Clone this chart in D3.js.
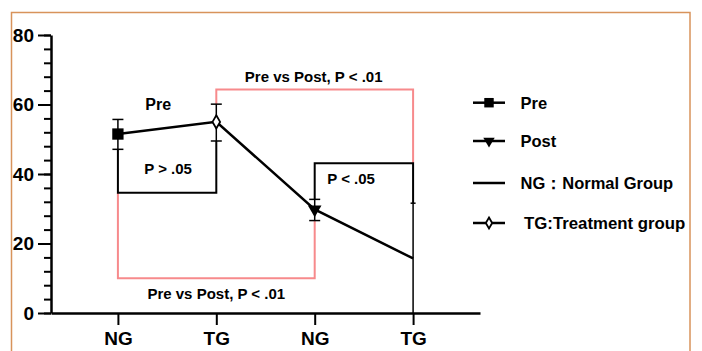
<!DOCTYPE html>
<html>
<head>
<meta charset="utf-8">
<script src="https://cdn.jsdelivr.net/npm/d3@7"></script>
<style>
  body { margin: 0; background: #fff; }
  text { font-family: "Liberation Sans", Arial, sans-serif; font-weight: bold; fill: #000; }
</style>
</head>
<body>
<div id="chart"></div>
<script>
// data
var categories = ["NG", "TG", "NG", "TG"];
var means = [51.5, 55, 29.8, 15.7];
var errTop = [55.7, 60.1, 32.7, 31.6];
var errBottom = [47.1, 49.5, 26.6, 0];
var markers = ["square", "diamond", "triangle", "none"];
var yTicks = [0, 20, 40, 60, 80];

var legendLabels = ["Pre", "Post", "NG\uFF1ANormal Group", "TG:Treatment group"];
var legendMarkers = ["square", "triangle", "none", "diamond"];

var pink = "#f78a8c";

var svg = d3.select('#chart')
    .append('svg')
    .attr('width', 702)
    .attr('height', 351);

// orange frame
svg.append('rect')
    .attr('x', 11.5).attr('y', 12.5)
    .attr('width', 678.5).attr('height', 360)
    .attr('fill', 'none')
    .attr('stroke', '#d8935b')
    .attr('stroke-width', 1.5);

var x = d3.scalePoint()
    .domain([0, 1, 2, 3])
    .range([51, 480])
    .padding(0.68);

var y = d3.scaleLinear()
    .domain([0, 80])
    .range([313, 35]);

var step = x.step();

// minor ticks
svg.append('g')
    .attr('transform', 'translate(51,0)')
    .call(d3.axisLeft(y).tickValues(d3.range(0, 81, 4)).tickSize(7).tickFormat(''))
    .call(function(g) { g.select('.domain').remove(); })
    .selectAll('line').attr('stroke-width', 2);

var yAxis = svg.append('g')
    .attr('transform', 'translate(51,0)')
    .call(d3.axisLeft(y).tickValues(yTicks).tickSizeInner(13).tickSizeOuter(0).tickPadding(4));
yAxis.select('.domain').attr('stroke-width', 2.5);
yAxis.selectAll('line').attr('stroke-width', 2);
yAxis.selectAll('text').style('font-size', '19px').attr('fill', '#000');

var xAxis = svg.append('g')
    .attr('transform', 'translate(0,313)')
    .call(d3.axisBottom(x).tickFormat(function(i) { return categories[i]; })
        .tickSizeInner(12).tickSizeOuter(0).tickPadding(7));
xAxis.select('.domain').attr('stroke-width', 2.5);
xAxis.selectAll('line').attr('stroke-width', 2);
xAxis.selectAll('text').style('font-size', '19px').attr('fill', '#000');

// brackets
function bracket(pts, color) {
    svg.append('path')
        .attr('d', d3.line().x(function(p) { return x(p[0]); }).y(function(p) { return y(p[1]); })(pts))
        .attr('fill', 'none')
        .attr('stroke', color)
        .attr('stroke-width', 2);
}
bracket([[0, 34.6], [0, 10], [2, 10], [2, 26.6]], pink);
bracket([[1, 60.1], [1, 64.3], [3, 64.3], [3, 43.1]], pink);
bracket([[0, 47.1], [0, 34.6], [1, 34.6], [1, 49.5]], '#000');
bracket([[2, 32.7], [2, 43.1], [3, 43.1], [3, 31.6]], '#000');

// error bars
var idx = d3.range(means.length);
svg.selectAll('.err')
    .data(idx)
    .enter()
    .append('line')
    .attr('x1', function(i) { return x(i); })
    .attr('x2', function(i) { return x(i); })
    .attr('y1', function(i) { return y(errTop[i]); })
    .attr('y2', function(i) { return y(errBottom[i]); })
    .attr('stroke', '#000')
    .attr('stroke-width', 1.5);
idx.forEach(function(i) {
    var half = i === 3 ? 2.5 : 5.5;
    [errTop[i], errBottom[i]].forEach(function(v) {
        if (v <= 0) return;
        svg.append('line')
            .attr('x1', x(i) - half).attr('x2', x(i) + half)
            .attr('y1', y(v)).attr('y2', y(v))
            .attr('stroke', '#000').attr('stroke-width', 1.5);
    });
});

// data line
svg.append('path')
    .datum(idx)
    .attr('d', d3.line().x(function(i) { return x(i); }).y(function(i) { return y(means[i]); }))
    .attr('fill', 'none')
    .attr('stroke', '#000')
    .attr('stroke-width', 2.5);

function marker(g, type, cx, cy, s) {
    if (type === 'square') {
        g.append('path').attr('d', d3.symbol(d3.symbolSquare, 128 * s)())
            .attr('transform', 'translate(' + cx + ',' + cy + ')').attr('fill', '#000');
    } else if (type === 'triangle') {
        g.append('path').attr('d', d3.symbol(d3.symbolTriangle, 80 * s)())
            .attr('transform', 'translate(' + cx + ',' + cy + ') rotate(180)').attr('fill', '#000');
    } else if (type === 'diamond') {
        g.append('path').attr('d', d3.symbol(d3.symbolDiamond, 50 * s)())
            .attr('transform', 'translate(' + cx + ',' + cy + ')')
            .attr('fill', '#fff').attr('stroke', '#000').attr('stroke-width', 1.8);
    }
}
idx.forEach(function(i) { marker(svg, markers[i], x(i), y(means[i]), 1); });

// annotations
function note(txt, cx, cy, size) {
    svg.append('text')
        .attr('x', cx).attr('y', cy)
        .attr('text-anchor', 'middle')
        .style('font-size', size + 'px')
        .text(txt);
}
note('Pre', x(0) + step * 0.41, y(60.2) + 6, 16);
note('P > .05', x(0) + step * 0.51, y(41.7) + 5.5, 15);
note('Pre vs Post, P < .01', x(1), y(5.6) + 5.5, 15);
note('Pre vs Post, P < .01', x(2) - 1, y(68.2) + 5.5, 15);
note('P < .05', x(2) + step * 0.37, y(38.8) + 5.5, 15);

// legend
var legendY = [102.7, 141, 183, 223];
var legend = svg.append('g');
legendLabels.forEach(function(lab, i) {
    var g = legend.append('g');
    g.append('line')
        .attr('x1', 473).attr('x2', 505)
        .attr('y1', legendY[i]).attr('y2', legendY[i])
        .attr('stroke', '#000').attr('stroke-width', 2.5);
    marker(g, legendMarkers[i], 489, legendY[i], 0.7);
    g.append('text')
        .attr('x', i === 3 ? 524 : 520.5)
        .attr('y', legendY[i] + 6)
        .style('font-size', i === 3 ? '16.8px' : '16.5px')
        .text(lab);
});
</script>
</body>
</html>
